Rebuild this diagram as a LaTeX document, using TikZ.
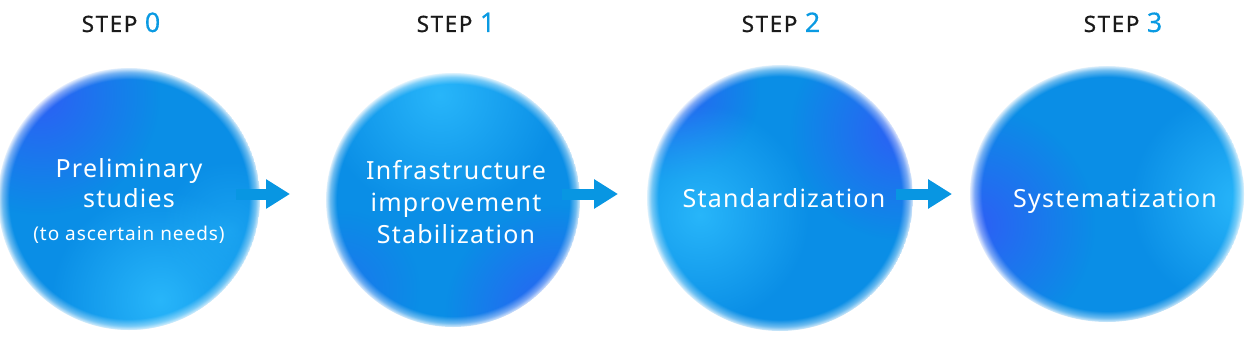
\documentclass[tikz,border=0pt]{standalone}
\usepackage{fontspec}
\setmainfont{Noto Sans}[LetterSpace=5]
\newfontfamily\stepfont{Noto Sans}[LetterSpace=7,FakeBold=0.7]
\newfontfamily\digitfont{Noto Sans}[FakeBold=0.3]
\usetikzlibrary{fadings,arrows.meta}
\tikzfading[name=softblob, inner color=transparent!0, outer color=transparent!100]
\pgfdeclareradialshading{edgeinvshade}{\pgfpointorigin}{color(0bp)=(black); color(22.6bp)=(black); color(23.9bp)=(black!60!white); color(25bp)=(white); color(50bp)=(white)}
\pgfdeclarefading{edgeinv}{\pgfuseshading{edgeinvshade}}
\definecolor{basec}{RGB}{10,142,230}
\definecolor{violc}{RGB}{45,95,245}
\definecolor{cyanc}{RGB}{40,182,250}
\definecolor{arrowc}{RGB}{8,150,226}
\definecolor{digitc}{RGB}{10,154,226}
\definecolor{stepc}{RGB}{26,26,26}
\tikzset{
  txt/.style={text=white,font=\fontsize{25}{28}\selectfont,anchor=base,inner sep=0pt},
  small/.style={text=white,font=\fontsize{19}{22}\selectfont,anchor=base,inner sep=0pt},
  steplbl/.style={text=stepc,anchor=base,inner sep=0pt,font=\stepfont\fontsize{22.5}{24}\selectfont},
  arr/.style={draw=arrowc,line width=11pt,-{Triangle[length=24pt,width=28pt]}},
  blob/.style={path fading=softblob},
  softrim/.style={fill=white,path fading=edgeinv}
}
\newcommand{\digit}[1]{\textcolor{digitc}{\digitfont\fontsize{27}{28}\selectfont #1}}
\begin{document}
\begin{tikzpicture}[x=1pt,y=-1pt]
\useasboundingbox (0,0) rectangle (1247,342);
% ---- circle 0
\coordinate (c0) at (129,199);
\begin{scope}
\clip (c0) circle[radius=131];
\fill[basec] (c0) circle[radius=131];
\fill[violc,blob] (40,95) circle[radius=120];
\fill[cyanc,blob] (160,300) circle[radius=110];
\fill[cyanc,blob,opacity=.5] (230,230) circle[radius=70];
\end{scope}
\path[softrim] (c0) circle[radius=132];
% ---- circle 1
\coordinate (c1) at (453,200);
\begin{scope}
\clip (c1) circle[radius=127];
\fill[basec] (c1) circle[radius=127];
\fill[cyanc,blob] (440,95) circle[radius=120];
\fill[violc,blob] (555,315) circle[radius=110];
\fill[violc,blob,opacity=.5] (340,290) circle[radius=80];
\end{scope}
\path[softrim] (c1) circle[radius=128];
% ---- circle 2
\coordinate (c2) at (780,198);
\begin{scope}
\clip (c2) circle[radius=133];
\fill[basec] (c2) circle[radius=133];
\fill[violc,blob] (900,130) circle[radius=110];
\fill[violc,blob] (670,90) circle[radius=90];
\fill[cyanc,blob] (700,215) circle[radius=110];
\end{scope}
\path[softrim] (c2) circle[radius=134];
% ---- circle 3
\coordinate (c3) at (1107,194);
\begin{scope}
\clip (c3) ellipse[x radius=137, y radius=128];
\fill[basec] (c3) ellipse[x radius=137, y radius=128];
\fill[violc,blob] (975,225) circle[radius=120];
\fill[cyanc,blob] (1240,200) circle[radius=110];
\end{scope}
\path[softrim] (c3) ellipse[x radius=138, y radius=129];
% ---- arrows
\coordinate (a0s) at (236,194); \coordinate (a0e) at (290,194);
\coordinate (a1s) at (562,194); \coordinate (a1e) at (618,194);
\coordinate (a2s) at (896,194); \coordinate (a2e) at (952,194);
\draw[arr] (a0s) -- (a0e);
\draw[arr] (a1s) -- (a1e);
\draw[arr] (a2s) -- (a2e);
% ---- step labels
\node[steplbl] (s0) at (121,32) {STEP \digit{0}};
\node[steplbl] (s1) at (456,32) {STEP \digit{1}};
\node[steplbl] (s2) at (781,32) {STEP \digit{2}};
\node[steplbl] (s3) at (1123,32) {STEP \digit{3}};
% ---- texts
\node[txt] (t0a) at (129,177) {Preliminary};
\node[txt] (t0b) at (129,207) {studies};
\node[small] (t0c) at (129,240) {(to ascertain needs)};
\node[txt] (t1a) at (456,179) {Infrastructure};
\node[txt] (t1b) at (456,211) {improvement};
\node[txt] (t1c) at (456,243) {Stabilization};
\node[txt] (t2) at (784,207) {Standardization};
\node[txt] (t3) at (1115,207) {Systematization};
\end{tikzpicture}
\end{document}
